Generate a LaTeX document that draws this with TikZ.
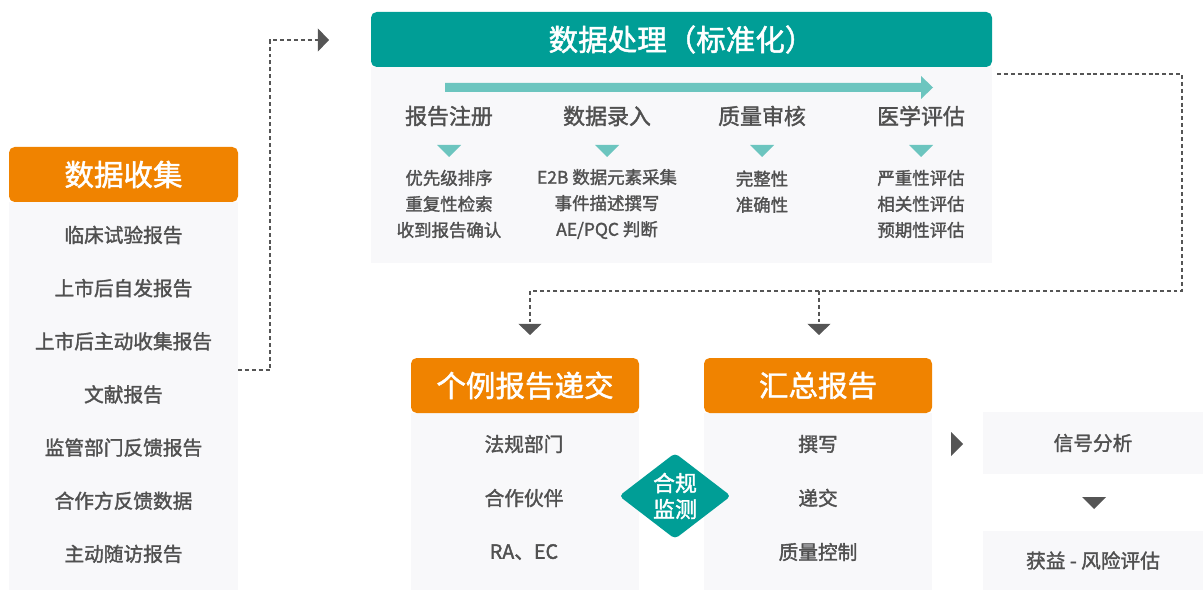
\documentclass[tikz,border=0pt]{standalone}
\usepackage{fontspec}
\setmainfont{Noto Sans CJK SC}[FakeBold=1.6]
\usepackage{xcolor}
\usepackage{tikz}
\usetikzlibrary{arrows.meta,shapes.geometric}
\definecolor{orangebar}{RGB}{240,131,0}
\definecolor{tealbar}{RGB}{0,158,150}
\definecolor{lightteal}{RGB}{108,197,191}
\definecolor{panelgray}{RGB}{248,248,250}
\definecolor{textgray}{RGB}{80,80,80}
\definecolor{tipgray}{RGB}{85,85,85}
\def\pu{0.025cm}

\begin{document}
\begin{tikzpicture}[x=0.025cm,y=-0.025cm,
		headbox/.style={fill=#1,rounded corners=4pt,inner sep=0pt,text=white,minimum height=55*\pu,font=\fontsize{21}{24}\selectfont},
		panel/.style={fill=panelgray,inner sep=0pt},
		item/.style={text=textgray,font=\fontsize{14}{16}\selectfont},
		stage/.style={text=textgray,font=\fontsize{15.6}{18}\selectfont},
		detail/.style={text=textgray,align=center,font=\fontsize{12.4}{18.5}\selectfont},
		dashline/.style={draw=tipgray,line width=0.85pt,dash pattern=on 2.8pt off 2.1pt},
		tip/.style={-{Triangle[length=8pt,width=16.5pt]}}]
				\useasboundingbox (0,0) rectangle (1203,590);
				
				% panels
				\node[panel,minimum width=229*\pu,minimum height=388*\pu] (collectBody) at (123.5,396) {};
				\node[panel,minimum width=621*\pu,minimum height=196*\pu] (processBody) at (681.5,165) {};
				\node[panel,minimum width=228*\pu,minimum height=177*\pu] (icsrBody) at (525,501.5) {};
				\node[panel,minimum width=228*\pu,minimum height=177*\pu] (aggBody) at (818,501.5) {};
				\node[panel,minimum width=220*\pu,minimum height=62*\pu,item] (signal) at (1093,443) {信号分析};
				\node[panel,minimum width=220*\pu,minimum height=59*\pu,item] (benefit) at (1093,560.5) {获益 - 风险评估};
				
				% headers
				\node[headbox=orangebar,minimum width=229*\pu] (collectHead) at (123.5,174.5) {数据收集};
				\node[headbox=tealbar,minimum width=621*\pu] (processHead) at (681.5,39.5) {数据处理（标准化）};
				\node[headbox=orangebar,minimum width=228*\pu] (icsrHead) at (525,385.5) {个例报告递交};
				\node[headbox=orangebar,minimum width=228*\pu] (aggHead) at (818,385.5) {汇总报告};
				
				% sources
				\foreach \t [count=\i] in {临床试验报告,上市后自发报告,上市后主动收集报告,文献报告,监管部门反馈报告,合作方反馈数据,主动随访报告}
					\node[item] (src\i) at (123.5,{235+53.15*(\i-1)}) {\t};
				
				% process steps
				\fill[lightteal] (445,83) -- (921,83) -- (921,76) -- (933,87.5) -- (921,99) -- (921,92) -- (445,92) -- cycle;
				\foreach \x/\t/\d [count=\i] in {449/报告注册/{优先级排序\\重复性检索\\收到报告确认},
						607/数据录入/{E2B 数据元素采集\\事件描述撰写\\AE/PQC 判断},
						762/质量审核/{完整性\\准确性\\\mbox{}},
						921/医学评估/{严重性评估\\相关性评估\\预期性评估}}{
					\node[stage] (step\i) at (\x,116) {\t};
					\fill[lightteal] (\x-12,145) -- (\x+12,145) -- (\x,157) -- cycle;
					\node[detail] (det\i) at (\x,204) {\d};
				}
				
				% submissions
				\node[item] (icsr1) at (524,444) {法规部门};
				\node[item] (icsr2) at (524,498) {合作伙伴};
				\node[item] (icsr3) at (524,552) {RA、EC};
				\node[item] (agg1) at (818,444) {撰写};
				\node[item] (agg2) at (818,498) {递交};
				\node[item] (agg3) at (818,552) {质量控制};
				\node[diamond,aspect=1.3,fill=tealbar,inner sep=0pt,rounded corners=3pt,minimum width=112*\pu,minimum height=86*\pu,text=white,align=center,font=\fontsize{15.6}{18.5}\selectfont] (check) at (675,496) {合规\\监测};
				
				% connectors
				\coordinate (out1) at (238,370);
				\coordinate (in1) at (329,40);
				\coordinate (out2) at (997,74);
				\coordinate (split) at (819,291);
				\coordinate (in2) at (530,335);
				\coordinate (in3) at (819,335);
				\draw[dashline,tip] (out1) -| (270,40) -- (in1);
				\draw[dashline] (out2) -| (1182,291) -- (530,291);
				\draw[dashline,tip] (530,291) -- (in2);
				\draw[dashline,tip] (split) -- (in3);
				
				\fill[tipgray] (951,432) -- (963,444) -- (951,456) -- cycle;
				\fill[tipgray] (1082,497) -- (1106,497) -- (1094,509) -- cycle;
\end{tikzpicture}
\end{document}
